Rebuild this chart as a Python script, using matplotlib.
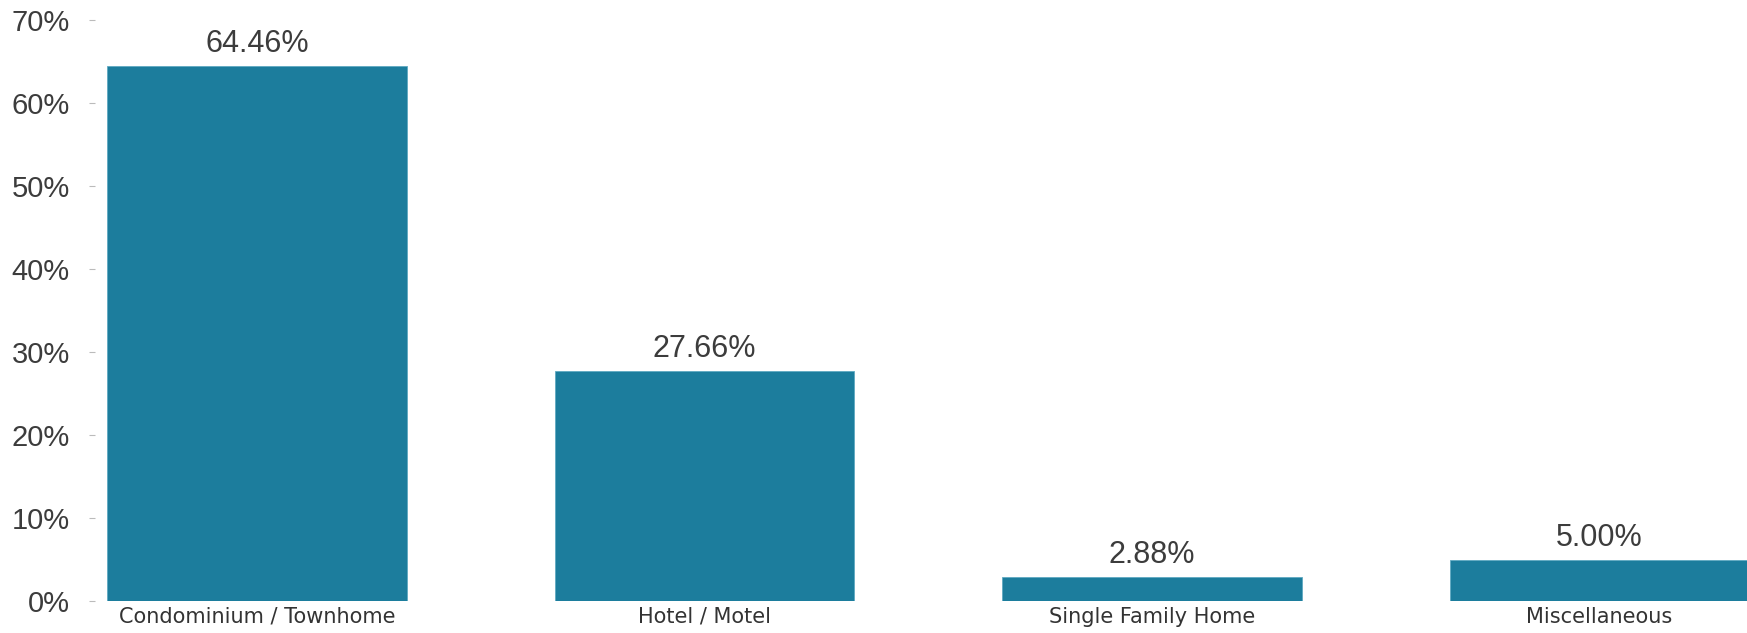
import matplotlib.pyplot as plt
from matplotlib.ticker import FuncFormatter

categories = ['Condominium / Townhome', 'Hotel / Motel', 'Single Family Home', 'Miscellaneous']
shares = [64.46, 27.66, 2.88, 5.00]
yticks = [0, 10, 20, 30, 40, 50, 60, 70]

W, H = 1747, 633
fig = plt.figure(figsize=(W / 100, H / 100), dpi=100)
# axes from x=95px to right edge, y from 601px (0%) up to 20px (70%)
ax = fig.add_axes([95 / W, (H - 601) / H, 1 - 95 / W, (601 - 20) / H])

pos = list(range(len(categories)))
bars = ax.bar(pos, shares, width=0.67, color='#1c7d9d', edgecolor='#5fa9c2', linewidth=0.6)

# category 0 centre at 257px, 447.5px per category
ax.set_xlim((95 - 257) / 447.5, (W - 257) / 447.5)
ax.set_ylim(0, 70)

ax.set_yticks(yticks)
ax.yaxis.set_major_formatter(FuncFormatter(lambda v, p: f'{v:.0f}%'))
ax.tick_params(axis='y', length=4, width=0.8, color='#bbbbbb', pad=14,
               labelsize=21, labelcolor='#3c3c3c')
for t in ax.get_yticklabels():
    t.set_family('Liberation Sans')

ax.set_xticks(pos)
ax.set_xticklabels(categories, family='DejaVu Sans', fontsize=15, color='#333333')
ax.tick_params(axis='x', length=0, pad=4)

for s in ax.spines.values():
    s.set_visible(False)

for b, v in zip(bars, shares):
    ax.annotate(f'{v:.2f}%', (b.get_x() + b.get_width() / 2, v),
                xytext=(0, 5), textcoords='offset points', ha='center', va='bottom',
                fontsize=22, color='#3c3c3c', family='Liberation Sans', annotation_clip=False)

fig.savefig('out.png', dpi=100)
